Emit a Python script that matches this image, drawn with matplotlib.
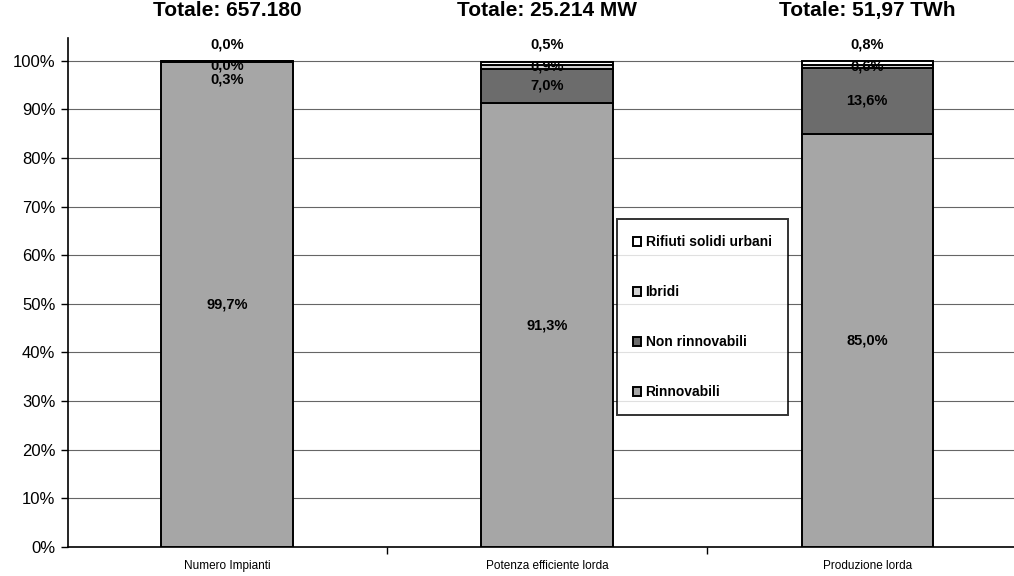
import matplotlib.pyplot as plt
from matplotlib.ticker import FixedLocator

plt.rcParams['font.family'] = ['Liberation Sans', 'DejaVu Sans']

# Ripartizione percentuale per tipologia di fonte
categorie = ['Numero Impianti', 'Potenza efficiente lorda', 'Produzione lorda']
totali = ['Totale: 657.180', 'Totale: 25.214 MW', 'Totale: 51,97 TWh']
rinnovabili = [99.7, 91.3, 85.0]
non_rinnovabili = [0.3, 7.0, 13.6]
ibridi = [0.0, 0.9, 0.6]
rifiuti = [0.0, 0.5, 0.8]

serie = [('Rinnovabili', rinnovabili, '#a6a6a6'),
         ('Non rinnovabili', non_rinnovabili, '#6c6c6c'),
         ('Ibridi', ibridi, '#d2d2d2'),
         ('Rifiuti solidi urbani', rifiuti, '#ffffff')]

fig = plt.figure(figsize=(10.14, 5.76), dpi=100)
ax = fig.add_axes([0.067, 0.0503, 0.946, 0.884])

x = list(range(len(categorie)))
larghezza = 0.41
base = [0.0] * len(categorie)
handles = []
centri = []
for nome, valori, colore in serie:
    b = ax.bar(x, valori, larghezza, bottom=base, color=colore,
               edgecolor='black', linewidth=1.4, label=nome, zorder=3)
    handles.append(b)
    centri.append([bb + v / 2 for bb, v in zip(base, valori)])
    base = [bb + v for bb, v in zip(base, valori)]

def fmt(v):
    return f'{v:.1f}%'.replace('.', ',')

# Etichette: la serie più in alto sopra la barra, le altre al centro
for i in x:
    ultimo = 103.4
    ax.text(i, ultimo, fmt(rifiuti[i]), ha='center', va='center',
            fontsize=10.5, fontweight='bold', clip_on=False, zorder=5)
    for k in (2, 1):
        nome, valori, _ = serie[k]
        y = min(centri[k][i], ultimo - 4.4 if k == 2 else ultimo - 2.9)
        ultimo = y
        ax.text(i, y, fmt(valori[i]), ha='center', va='center',
                fontsize=10.5, fontweight='bold', zorder=5)
    ax.text(i, centri[0][i], fmt(rinnovabili[i]), ha='center', va='center',
            fontsize=10.5, fontweight='bold', zorder=5)
    ax.text(i, 110.4, totali[i], ha='center', va='center',
            fontsize=15, fontweight='bold', clip_on=False)

ax.set_xlim(-0.497, 2.5)
ax.set_ylim(0, 104.7)
ax.set_yticks(range(0, 101, 10))
ax.set_yticklabels([f'{v}%' for v in range(0, 101, 10)], fontsize=12)
ax.set_xticks(x)
ax.set_xticklabels(categorie, fontsize=8.5)
ax.xaxis.set_minor_locator(FixedLocator([0.5, 1.5]))
ax.tick_params(axis='x', which='major', length=0, pad=9)
ax.tick_params(axis='x', which='minor', length=5, width=1, direction='out')
ax.tick_params(axis='y', length=5, width=1, direction='out', pad=4)

ax.grid(axis='y', color='#666666', linewidth=0.8, zorder=0)
for lato in ('top', 'right'):
    ax.spines[lato].set_visible(False)
ax.spines['left'].set_linewidth(1.2)
ax.spines['bottom'].set_linewidth(1.2)

leg = ax.legend(handles[::-1], [s[0] for s in serie][::-1],
                loc='upper left', bbox_to_anchor=(0.5725, 0.644),
                borderaxespad=0, fontsize=10, labelspacing=2.6,
                handlelength=0.6, handleheight=0.6, handletextpad=0.3,
                borderpad=1.15, frameon=True, fancybox=False,
                edgecolor='black')
leg.get_frame().set_linewidth(1.4)
for t in leg.get_texts():
    t.set_fontweight('bold')
leg.set_zorder(6)

fig.savefig('out.png', dpi=100)
